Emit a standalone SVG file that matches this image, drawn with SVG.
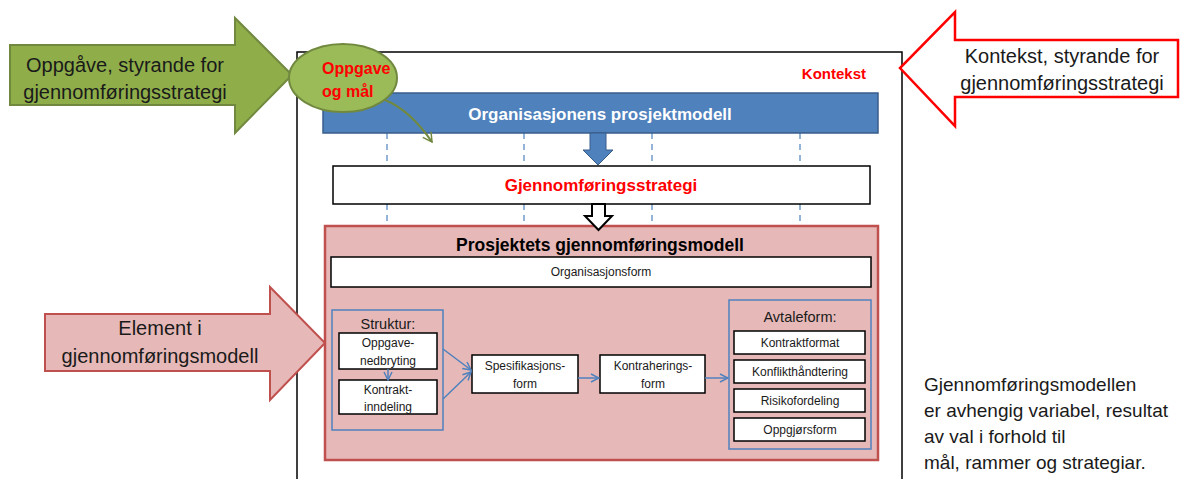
<svg xmlns="http://www.w3.org/2000/svg" width="1199" height="479" viewBox="0 0 1199 479">
<defs>
<style>
text{font-family:"Liberation Sans",Arial,sans-serif;text-anchor:middle;fill:#1a1a1a}
.big{font-size:20px}
.sm{font-size:12px}
.md{font-size:14.5px}
.red{fill:#ff0000;font-weight:bold}
.wbox{fill:#ffffff;stroke:#000000;stroke-width:1.5}
.bluebox{fill:none;stroke:#4f81bd;stroke-width:1.5}
.dash{stroke:#4f81bd;stroke-width:1.2;stroke-dasharray:6,5;fill:none}
.conn{stroke:#4f81bd;stroke-width:1.5;fill:none}
</style>
<marker id="ah" markerWidth="10" markerHeight="10" refX="9" refY="5" orient="auto" markerUnits="userSpaceOnUse">
<path d="M1,1 L9,5 L1,9" fill="none" stroke="#4f81bd" stroke-width="1.5"/>
</marker>
<marker id="gah" markerWidth="12" markerHeight="12" refX="10" refY="6" orient="auto" markerUnits="userSpaceOnUse">
<path d="M1,1 L10,6 L1,11" fill="none" stroke="#71893f" stroke-width="1.5"/>
</marker>
</defs>
<rect width="1199" height="479" fill="#ffffff"/>

<g id="context-frame">
<rect x="297" y="52" width="605" height="440" fill="#ffffff" stroke="#000000" stroke-width="1.5"/>
<text x="866" y="79" style="text-anchor:end;font-size:15px" class="red">Kontekst</text>
</g>

<g id="dashed-lines">
<line class="dash" x1="387" y1="133" x2="387" y2="166"/>
<line class="dash" x1="524" y1="133" x2="524" y2="166"/>
<line class="dash" x1="652" y1="133" x2="652" y2="166"/>
<line class="dash" x1="800" y1="133" x2="800" y2="166"/>
<line class="dash" x1="387" y1="204" x2="387" y2="225"/>
<line class="dash" x1="524" y1="204" x2="524" y2="225"/>
<line class="dash" x1="652" y1="204" x2="652" y2="225"/>
<line class="dash" x1="800" y1="204" x2="800" y2="225"/>
</g>

<g id="arrow-oppgave">
<path d="M10,45 L235,45 L235,18 L292,75 L235,133 L235,105 L10,105 Z" fill="#8fae4a" stroke="#71893f" stroke-width="2"/>
<text class="big" x="125" y="72">Oppgåve, styrande for</text>
<text class="big" x="125" y="99">gjennomføringsstrategi</text>
</g>

<g id="arrow-kontekst">
<path d="M1178,40 L955,40 L955,12 L900,68 L955,126 L955,97 L1178,97 Z" fill="#ffffff" stroke="#ff0000" stroke-width="2.5"/>
<text class="big" x="1062" y="63">Kontekst, styrande for</text>
<text class="big" x="1062" y="90">gjennomføringsstrategi</text>
</g>

<g id="arrow-element">
<path d="M45,314 L270,314 L270,287 L325,343 L270,400 L270,371 L45,371 Z" fill="#e6b9b8" stroke="#c0504d" stroke-width="2"/>
<text class="big" x="160" y="335">Element i</text>
<text class="big" x="160" y="363">gjennomføringsmodell</text>
</g>

<g id="organisasjonens-prosjektmodell">
<rect x="323" y="93" width="555" height="40" fill="#4f81bd" stroke="#385d8a" stroke-width="1.5"/>
<text x="600" y="120" style="fill:#ffffff;font-weight:bold;font-size:17px">Organisasjonens prosjektmodell</text>
</g>

<g id="oppgave-og-mal">
<ellipse cx="343" cy="78" rx="54" ry="34" fill="#9bbb59" stroke="#71893f" stroke-width="2"/>
<text class="red" x="322" y="74" style="font-size:16px;text-anchor:start">Oppgave</text>
<text class="red" x="322" y="97" style="font-size:16px;text-anchor:start">og mål</text>
</g>

<g id="gjennomforingsstrategi">
<rect x="333" y="166" width="537" height="38" class="wbox"/>
<text x="601" y="191" class="red" style="font-size:17px">Gjennomføringsstrategi</text>
</g>

<g id="prosjektets-gjennomforingsmodell">
<rect x="325" y="226" width="553" height="234" fill="#e6b9b8" stroke="#c0504d" stroke-width="2.5"/>
<text x="600" y="251" style="font-weight:bold;font-size:17.5px;fill:#000">Prosjektets gjennomføringsmodell</text>
</g>

<g id="organisasjonsform">
<rect x="331" y="257" width="540" height="30" class="wbox"/>
<text x="601" y="276" class="sm">Organisasjonsform</text>
</g>

<g id="struktur">
<rect x="332" y="310" width="111" height="120" class="bluebox"/>
<text x="388" y="329" class="md">Struktur:</text>
</g>

<g id="oppgavenedbryting">
<rect x="339" y="333" width="98" height="36" class="wbox"/>
<text x="388" y="347" class="sm">Oppgave-</text>
<text x="388" y="365" class="sm">nedbryting</text>
</g>

<g id="kontraktinndeling">
<rect x="339" y="380" width="98" height="34" class="wbox"/>
<text x="388" y="394" class="sm">Kontrakt-</text>
<text x="388" y="411" class="sm">inndeling</text>
</g>

<g id="spesifikasjonsform">
<rect x="472" y="355" width="106" height="38" class="wbox"/>
<text x="525" y="370" class="sm">Spesifikasjons-</text>
<text x="525" y="388" class="sm">form</text>
</g>

<g id="kontraheringsform">
<rect x="600" y="355" width="105" height="38" class="wbox"/>
<text x="653" y="370" class="sm">Kontraherings-</text>
<text x="653" y="388" class="sm">form</text>
</g>

<g id="avtaleform">
<rect x="729" y="300" width="142" height="149" class="bluebox"/>
<text x="800" y="322" class="md">Avtaleform:</text>
</g>
<g id="kontraktformat">
<rect x="734" y="331" width="131" height="23" class="wbox"/>
<text x="800" y="347" class="sm">Kontraktformat</text>
</g>
<g id="konflikthandtering">
<rect x="734" y="360" width="131" height="23" class="wbox"/>
<text x="800" y="376" class="sm">Konflikthåndtering</text>
</g>
<g id="risikofordeling">
<rect x="734" y="389" width="131" height="23" class="wbox"/>
<text x="800" y="405" class="sm">Risikofordeling</text>
</g>
<g id="oppgjorsform">
<rect x="734" y="418" width="131" height="23" class="wbox"/>
<text x="800" y="434" class="sm">Oppgjørsform</text>
</g>

<g id="connectors">
<path d="M385,100 Q410,110 432,142" stroke="#71893f" stroke-width="2" fill="none" marker-end="url(#gah)"/>
<path d="M590,133 L606,133 L606,150 L613,150 L598,165 L583,150 L590,150 Z" fill="#4f81bd" stroke="#385d8a" stroke-width="1"/>
<path d="M592,204 L605,204 L605,216 L612,216 L598.5,230 L585,216 L592,216 Z" fill="#ffffff" stroke="#000000" stroke-width="2"/>
<line class="conn" x1="388" y1="369" x2="388" y2="380" marker-end="url(#ah)"/>
<line class="conn" x1="443" y1="349" x2="471" y2="370" marker-end="url(#ah)"/>
<line class="conn" x1="443" y1="399" x2="471" y2="372" marker-end="url(#ah)"/>
<line class="conn" x1="578" y1="378" x2="599" y2="378" marker-end="url(#ah)"/>
<line class="conn" x1="705" y1="378" x2="728" y2="378" marker-end="url(#ah)"/>
</g>

<g id="note" style="font-size:19px">
<text x="924" y="391" style="text-anchor:start">Gjennomføringsmodellen</text>
<text x="924" y="417" style="text-anchor:start">er avhengig variabel, resultat</text>
<text x="924" y="443" style="text-anchor:start">av val i forhold til</text>
<text x="924" y="469" style="text-anchor:start">mål, rammer og strategiar.</text>
</g>
</svg>
